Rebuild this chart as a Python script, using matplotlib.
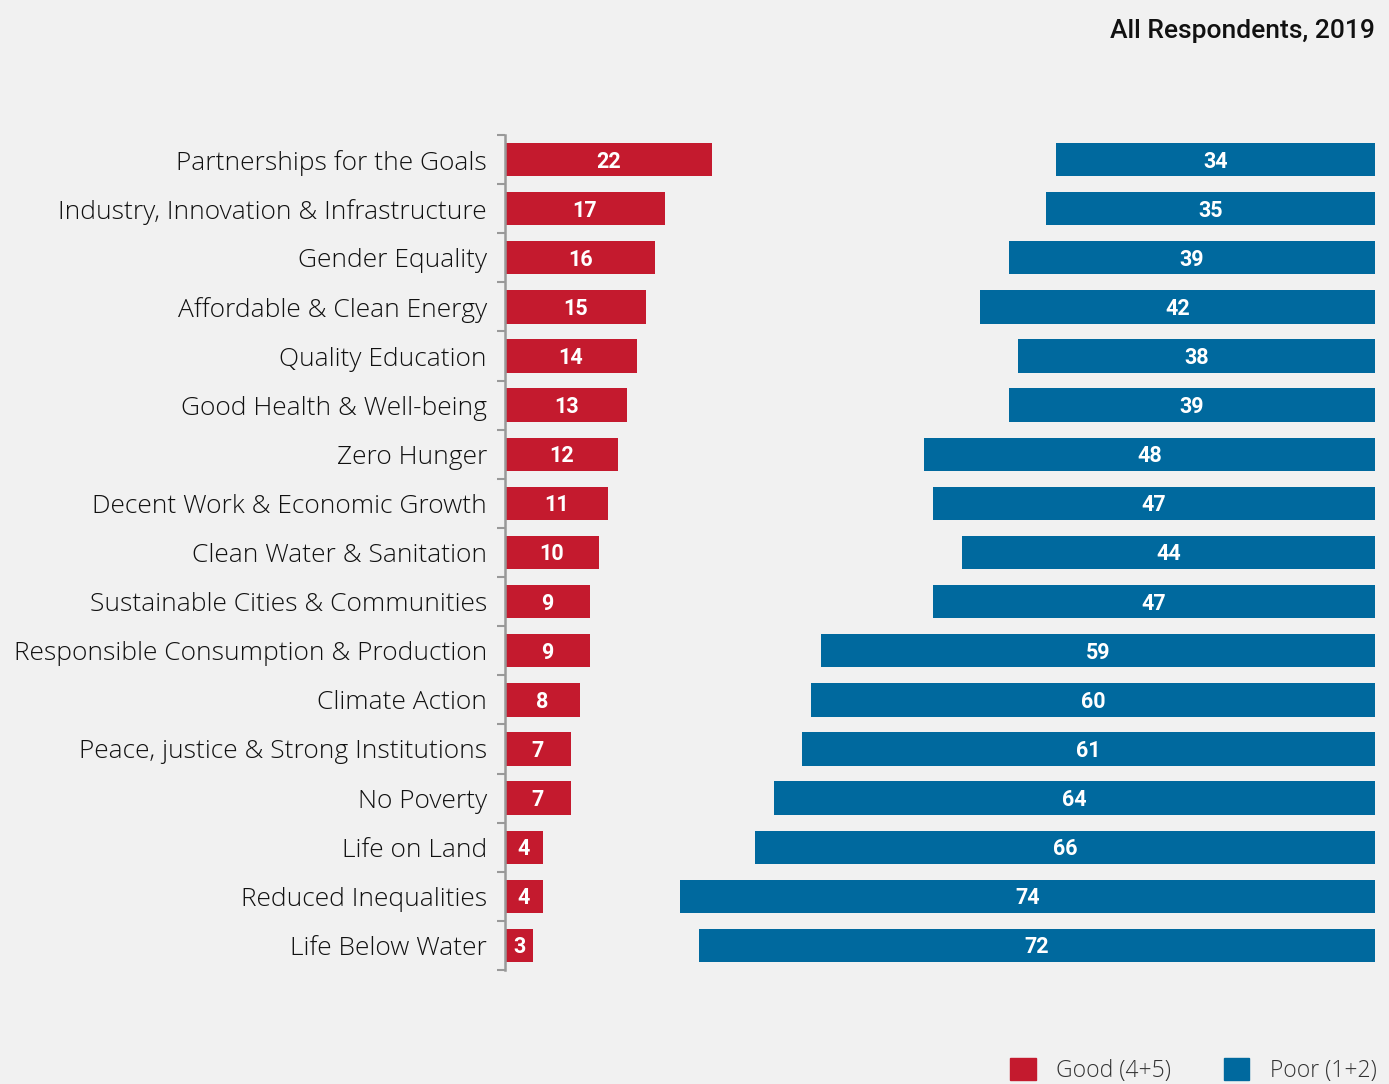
import numpy as np
import matplotlib.pyplot as plt
from matplotlib.patches import Patch

# Data, top row first
goals = ['Partnerships for the Goals', 'Industry, Innovation & Infrastructure',
         'Gender Equality', 'Affordable & Clean Energy', 'Quality Education',
         'Good Health & Well-being', 'Zero Hunger', 'Decent Work & Economic Growth',
         'Clean Water & Sanitation', 'Sustainable Cities & Communities',
         'Responsible Consumption & Production', 'Climate Action',
         'Peace, justice & Strong Institutions', 'No Poverty', 'Life on Land',
         'Reduced Inequalities', 'Life Below Water']
good = [22, 17, 16, 15, 14, 13, 12, 11, 10, 9, 9, 8, 7, 7, 4, 4, 3]
poor = [34, 35, 39, 42, 38, 39, 48, 47, 44, 47, 59, 60, 61, 64, 66, 74, 72]

RED = '#C41A2E'
BLUE = '#00699E'
BG = '#F1F1F1'
XMAX = 92.6  # full width of the axis in percent units

fig = plt.figure(figsize=(13.89, 10.84), dpi=100, facecolor=BG)
ax = fig.add_axes([505/1389, 114/1084, 870/1389, 835/1084])
ax.set_facecolor(BG)

y = np.arange(len(goals))
ax.barh(y, good, height=0.68, color=RED)
ax.barh(y, poor, left=[XMAX - p for p in poor], height=0.68, color=BLUE)

for i in range(len(goals)):
    ax.text(good[i] / 2, y[i] + 0.04, str(good[i]), ha='center', va='center',
            color='white', fontsize=15.5, fontweight='bold', family='Roboto')
    ax.text(XMAX - poor[i] / 2, y[i] + 0.04, str(poor[i]), ha='center', va='center',
            color='white', fontsize=15.5, fontweight='bold', family='Roboto')

ax.set_xlim(0, XMAX)
ax.set_ylim(len(goals) - 0.5, -0.5)
ax.set_yticks(y)
ax.set_yticklabels(goals, fontsize=19, family='Open Sans', fontweight='light',
                   color='#111111')
ax.tick_params(axis='y', which='major', length=0, pad=13)
ax.set_yticks(np.arange(len(goals) + 1) - 0.5, minor=True)
ax.tick_params(axis='y', which='minor', length=6, width=1.5, color='#999999')
ax.set_xticks([])
for s in ['top', 'right', 'bottom']:
    ax.spines[s].set_visible(False)
ax.spines['left'].set_color('#999999')
ax.spines['left'].set_linewidth(1.8)

fig.text(1375/1389, 1 - 31/1084, 'All Respondents, 2019', ha='right', va='center',
         fontsize=19, family='Roboto', fontweight='medium', color='#111111')

handles = [Patch(color=RED, label='Good (4+5)'), Patch(color=BLUE, label='Poor (1+2)')]
fig.legend(handles=handles, loc='lower right', bbox_to_anchor=(1.006, -0.018), ncol=2,
           frameon=False, prop={'family': 'Open Sans', 'weight': 'light', 'size': 16.5},
           handlelength=1.1, handleheight=1.1, columnspacing=2.3, handletextpad=0.9,
           labelcolor='#333333')

fig.savefig('out.png', dpi=100, facecolor=BG)
